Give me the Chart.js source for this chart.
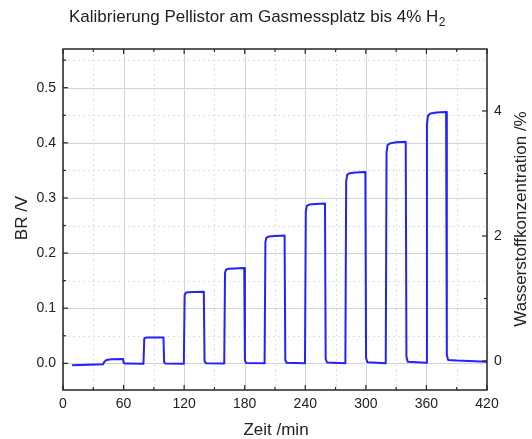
<!DOCTYPE html>
<html>
<head>
<meta charset="utf-8">
<script src="https://cdn.jsdelivr.net/npm/chart.js@4.4.1/dist/chart.umd.min.js"></script>
<style>
  body { margin: 0; background: #fff; }
  #wrap { width: 532px; height: 439px; }
</style>
</head>
<body>
<div id="wrap"><canvas id="bpChart" width="532" height="439"></canvas></div>
<script>
const zeitMin = [
  9, 25, 39.8,
  41, 43, 48, 59.4, 60.2, 62, 79.7,
  80.5, 81.5, 84, 90, 99.5, 100.2, 101.5, 119.7,
  120.5, 121.5, 124, 130, 139.5, 140.2, 141.5, 159.7,
  160.5, 161.5, 164, 170, 179.5, 180.2, 181.5, 199.7,
  200.5, 201.5, 204, 210, 219.5, 220.2, 221.5, 239.7,
  240.5, 241.5, 244, 250, 259.5, 260.2, 261.5, 279.7,
  280.5, 281.5, 284, 290, 299.5, 300.2, 301.5, 319.7,
  320.5, 321.5, 324, 330, 339.5, 340.2, 341.5, 359.7,
  360.5, 361.5, 364, 370, 379.5, 380.2, 381.5, 390, 420
];
const brVolt = [
  -0.0035, -0.0025, -0.0015,
  0.003, 0.006, 0.0075, 0.008, 0.0005, -0.0005, -0.001,
  0.0445, 0.0463, 0.0467, 0.047, 0.047, 0.002, -0.0005, -0.001,
  0.1235, 0.128, 0.129, 0.1295, 0.130, 0.004, 0.000, -0.0005,
  0.164, 0.170, 0.1715, 0.172, 0.173, 0.005, 0.0005, 0.000,
  0.220, 0.228, 0.230, 0.231, 0.232, 0.006, 0.001, 0.000,
  0.2755, 0.2855, 0.288, 0.289, 0.290, 0.008, 0.0015, 0.000,
  0.330, 0.342, 0.345, 0.346, 0.347, 0.010, 0.002, 0.000,
  0.382, 0.396, 0.399, 0.401, 0.402, 0.012, 0.003, 0.001,
  0.433, 0.449, 0.453, 0.455, 0.456, 0.015, 0.006, 0.005, 0.003
];

// Achsenbeschriftung
const xTicks = [0, 60, 120, 180, 240, 300, 360, 420];
const yTicks = [0.0, 0.1, 0.2, 0.3, 0.4, 0.5];
const y1Ticks = [0, 2, 4];

const titleText = 'Kalibrierung Pellistor am Gasmessplatz bis 4% H';
const titleSub = '2';
const FONT = '"Liberation Sans", Arial, sans-serif';
const frameColor = '#262626';
const textColor = '#222';

// halbe Schritte zwischen den Hauptticks
function minorTicks(ticks, min, max) {
  const step = ticks[1] - ticks[0];
  const out = [];
  for (let i = -1; i < ticks.length; i++) {
    const v = ticks[0] + (i + 0.5) * step;
    if (v > min && v < max) out.push(v);
  }
  return out;
}

const framePlugin = {
  id: 'framePlugin',
  beforeDatasetsDraw(chart) {
    const { ctx, chartArea: a } = chart;
    const xs = chart.scales.x, ys = chart.scales.y;
    ctx.save();
    ctx.beginPath();
    ctx.rect(a.left, a.top, a.right - a.left, a.bottom - a.top);
    ctx.clip();
    // minor grid (dotted)
    ctx.strokeStyle = '#dedede';
    ctx.lineWidth = 1;
    ctx.setLineDash([2, 3]);
    minorTicks(xTicks, xs.min, xs.max).forEach(v => {
      const px = Math.round(xs.getPixelForValue(v)) + 0.5;
      ctx.beginPath(); ctx.moveTo(px, a.top); ctx.lineTo(px, a.bottom); ctx.stroke();
    });
    minorTicks(yTicks, ys.min, ys.max).forEach(v => {
      const py = Math.round(ys.getPixelForValue(v)) + 0.5;
      ctx.beginPath(); ctx.moveTo(a.left, py); ctx.lineTo(a.right, py); ctx.stroke();
    });
    // major grid (solid)
    ctx.setLineDash([]);
    ctx.strokeStyle = '#d4d4d4';
    xTicks.forEach(v => {
      const px = Math.round(xs.getPixelForValue(v)) + 0.5;
      ctx.beginPath(); ctx.moveTo(px, a.top); ctx.lineTo(px, a.bottom); ctx.stroke();
    });
    yTicks.forEach(v => {
      const py = Math.round(ys.getPixelForValue(v)) + 0.5;
      ctx.beginPath(); ctx.moveTo(a.left, py); ctx.lineTo(a.right, py); ctx.stroke();
    });
    ctx.restore();
  },
  afterDraw(chart) {
    const { ctx, chartArea: a } = chart;
    const xs = chart.scales.x, ys = chart.scales.y, y1 = chart.scales.y1;
    ctx.save();
    ctx.strokeStyle = frameColor;
    ctx.lineWidth = 1.5;
    ctx.strokeRect(a.left, a.top, a.right - a.left, a.bottom - a.top);

    ctx.lineWidth = 1.2;
    const tick = (x1, y1p, x2, y2) => {
      ctx.beginPath(); ctx.moveTo(x1, y1p); ctx.lineTo(x2, y2); ctx.stroke();
    };
    // x ticks top + bottom (inward)
    xTicks.forEach(v => {
      const px = xs.getPixelForValue(v);
      tick(px, a.bottom, px, a.bottom - 5);
      tick(px, a.top, px, a.top + 5);
    });
    minorTicks(xTicks, xs.min, xs.max).forEach(v => {
      const px = xs.getPixelForValue(v);
      tick(px, a.bottom, px, a.bottom - 3);
      tick(px, a.top, px, a.top + 3);
    });
    // left ticks
    yTicks.forEach(v => {
      const py = ys.getPixelForValue(v);
      tick(a.left, py, a.left + 5, py);
    });
    minorTicks(yTicks, ys.min, ys.max).forEach(v => {
      const py = ys.getPixelForValue(v);
      tick(a.left, py, a.left + 3, py);
    });
    // right ticks (Konzentration)
    y1Ticks.forEach(v => {
      const py = y1.getPixelForValue(v);
      tick(a.right, py, a.right - 5, py);
    });
    minorTicks(y1Ticks, y1.min, y1.max).forEach(v => {
      const py = y1.getPixelForValue(v);
      tick(a.right, py, a.right - 3, py);
    });

    // Titel mit tiefgestellter 2
    ctx.fillStyle = textColor;
    ctx.font = '17px ' + FONT;
    ctx.textBaseline = 'alphabetic';
    const wMain = ctx.measureText(titleText).width;
    ctx.font = '12px ' + FONT;
    const wSub = ctx.measureText(titleSub).width;
    const startX = 257 - (wMain + wSub) / 2;
    ctx.font = '17px ' + FONT;
    ctx.textAlign = 'left';
    ctx.fillText(titleText, startX, 22);
    ctx.font = '12px ' + FONT;
    ctx.fillText(titleSub, startX + wMain + 0.5, 26);

    // Achsentitel
    ctx.font = '17px ' + FONT;
    ctx.textAlign = 'center';
    ctx.textBaseline = 'middle';
    ctx.fillText('Zeit /min', 276, 430);
    ctx.save();
    ctx.translate(22, 218);
    ctx.rotate(-Math.PI / 2);
    ctx.fillText('BR /V', 0, 0);
    ctx.restore();
    ctx.save();
    ctx.translate(521, 219);
    ctx.rotate(-Math.PI / 2);
    ctx.fillText('Wasserstoffkonzentration /%', 0, 0);
    ctx.restore();
    ctx.restore();
  }
};

const points = zeitMin.map((t, i) => ({ x: t, y: brVolt[i] }));
const tickFont = { family: FONT, size: 14 };

new Chart(document.getElementById('bpChart'), {
  type: 'line',
  data: {
    datasets: [{
      label: 'BR',
      data: points,
      borderColor: '#2222ff',
      borderWidth: 2,
      pointRadius: 0,
      tension: 0,
      borderJoinStyle: 'round',
      fill: false,
      yAxisID: 'y'
    }]
  },
  options: {
    responsive: false,
    animation: false,
    devicePixelRatio: 1,
    layout: { padding: { top: 49, left: 0, right: 0, bottom: 0 } },
    plugins: {
      legend: { display: false },
      tooltip: { enabled: false },
      title: { display: false }
    },
    scales: {
      x: {
        type: 'linear',
        min: 0,
        max: 420,
        afterBuildTicks: s => { s.ticks = xTicks.map(v => ({ value: v })); },
        afterFit: s => { s.height = 49; },
        ticks: { font: tickFont, color: textColor, padding: 6, maxRotation: 0 },
        grid: { display: false, drawTicks: false },
        border: { display: false }
      },
      y: {
        type: 'linear',
        position: 'left',
        min: -0.0484,
        max: 0.5702,
        afterBuildTicks: s => { s.ticks = yTicks.map(v => ({ value: v })); },
        afterFit: s => { s.width = 63; },
        ticks: { font: tickFont, color: textColor, padding: 7, callback: v => v.toFixed(1) },
        grid: { display: false, drawTicks: false },
        border: { display: false }
      },
      y1: {
        type: 'linear',
        position: 'right',
        min: -0.464,
        max: 4.992,
        afterBuildTicks: s => { s.ticks = y1Ticks.map(v => ({ value: v })); },
        afterFit: s => { s.width = 45; },
        ticks: { font: tickFont, color: textColor, padding: 7 },
        grid: { display: false, drawTicks: false },
        border: { display: false }
      }
    }
  },
  plugins: [framePlugin]
});
</script>
</body>
</html>
